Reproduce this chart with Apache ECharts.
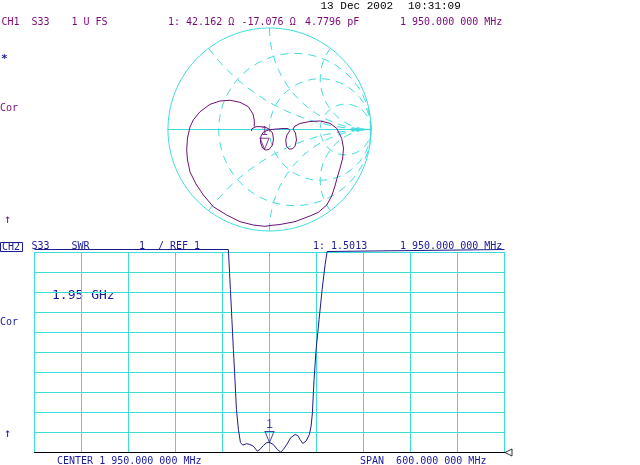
<!DOCTYPE html>
<html><head><meta charset="utf-8">
<script src="https://cdn.jsdelivr.net/npm/echarts@6/dist/echarts.min.js"></script>
<style>html,body{margin:0;padding:0;background:#fff}#c{width:640px;height:465px}</style>
</head><body><div id="c"></div>
<script>
// ---- CH1: S33 Smith chart trace (reflection coefficient, real / imaginary) ----
const smithGammaRe = [-0.177,-0.177,-0.163,-0.133,-0.094,-0.044,-0.005,0.030,0.039,0.030,-0.005,-0.039,-0.069,-0.089,-0.084,-0.059,-0.025,0.015,0.074,0.133,0.182,0.202,0.172,0.160,0.167,0.192,0.222,0.251,0.266,0.256,0.232,0.251,0.300,0.399,0.498,0.596,0.662,0.711,0.729,0.721,0.695,0.665,0.645,0.613,0.564,0.481,0.399,0.251,0.103,0.005,-0.044,-0.160,-0.291,-0.422,-0.554,-0.652,-0.724,-0.783,-0.808,-0.816,-0.808,-0.783,-0.751,-0.685,-0.586,-0.488,-0.389,-0.291,-0.209,-0.163,-0.150,-0.150];
const smithGammaIm = [-0.015,0.005,0.020,0.028,0.028,0.023,0.005,-0.034,-0.094,-0.153,-0.197,-0.202,-0.182,-0.123,-0.064,-0.025,-0.010,0.000,0.005,0.010,0.010,-0.010,-0.054,-0.103,-0.163,-0.192,-0.192,-0.167,-0.103,-0.034,0.005,0.034,0.059,0.079,0.084,0.061,0.012,-0.087,-0.182,-0.281,-0.382,-0.481,-0.557,-0.655,-0.744,-0.816,-0.852,-0.908,-0.936,-0.946,-0.954,-0.941,-0.908,-0.842,-0.761,-0.645,-0.537,-0.419,-0.300,-0.202,-0.084,0.025,0.094,0.175,0.248,0.281,0.288,0.268,0.225,0.153,0.094,0.028];
// Smith graticule: constant resistance circles and constant reactance arcs (normalised)
const smithR = [1/3, 1, 3];
const smithX = [0.5, 1, 2, -0.5, -1, -2];
// marker 1 readout (ohms) and system impedance
const markerZ = [42.162, -17.076];
const z0 = 50;

// ---- CH2: S33 SWR versus frequency ----
const centerMHz = 1950, spanMHz = 600;
const swrFreqMHz = [1650,1897.5,1898.2,1900.1,1902.0,1903.9,1905.9,1907.8,1910.3,1912.9,1915.7,1920.8,1925.0,1929.3,1934.4,1937.8,1942.1,1946.4,1950,1954.9,1960.0,1964.3,1967.7,1972.0,1977.1,1982.6,1986.1,1989.0,1992.5,1996.7,2000.9,2003.1,2004.8,2006.0,2006.9,2009.5,2013.3,2017.2,2021.0,2023.6,2024.2,2250];
const swrValues  = [11.15,11.15,11.05,9.15,7.65,6.15,4.65,3.15,2.15,1.50,1.37,1.44,1.40,1.32,1.07,1.15,1.35,1.49,1.50,1.40,1.15,1.02,1.15,1.40,1.74,1.90,1.85,1.65,1.45,1.57,1.90,2.32,2.99,3.99,4.65,6.15,7.65,9.15,10.4,11.05,11.15,11.15];
const swrRefValue = 1, swrPerDiv = 1, swrDivs = 10;
const markerFreqMHz = 1950, markerSWR = 1.5013;

const PURPLE = '#7a087a', TRACE1 = '#6a1278', BLUE = '#1a1a9c', TRACE2 = '#1c1c8c', CYAN = '#3cdcdc';
const HP = '10px "DejaVu Sans Mono"';

function gammaOfZ(r, x) {
  const den = (r + 1) * (r + 1) + x * x;
  return [(r * r - 1 + x * x) / den, 2 * x / den];
}
function rCircle(r) {
  const c = r / (1 + r), rad = 1 / (1 + r), pts = [];
  for (let i = 0; i <= 240; i++) { const a = Math.PI * 2 * i / 240; pts.push([c + rad * Math.cos(a), rad * Math.sin(a)]); }
  return pts;
}
function xArc(x) {
  const pts = [];
  for (let i = 0; i < 160; i++) { const r = Math.tan(Math.PI / 2 * i / 160); pts.push(gammaOfZ(r, x)); }
  pts.push([1, 0]);
  return pts;
}
const zn = [markerZ[0] / z0, markerZ[1] / z0];
const markerGamma = gammaOfZ(zn[0], zn[1]);

const series = [];
series.push({ type: 'line', xAxisIndex: 0, yAxisIndex: 0, data: rCircle(0), showSymbol: false, silent: true, clip: false, lineStyle: { color: CYAN, width: 1 } });
smithR.forEach(r => series.push({ type: 'line', xAxisIndex: 0, yAxisIndex: 0, data: rCircle(r), showSymbol: false, silent: true, clip: false, lineStyle: { color: CYAN, width: 1, type: [8, 6] } }));
smithX.forEach(x => series.push({ type: 'line', xAxisIndex: 0, yAxisIndex: 0, data: xArc(x), showSymbol: false, silent: true, clip: false, lineStyle: { color: CYAN, width: 1, type: [8, 6] } }));
series.push({ type: 'line', xAxisIndex: 0, yAxisIndex: 0, data: smithGammaRe.map((v, i) => [v, smithGammaIm[i]]), showSymbol: false, clip: false, lineStyle: { color: TRACE1, width: 1 } });
const triPath = 'path://M0,0L10,0L5,11Z';
series.push({ type: 'scatter', xAxisIndex: 0, yAxisIndex: 0, data: [markerGamma], symbol: triPath, symbolSize: [9, 11], symbolOffset: [0, -5.5],
  itemStyle: { color: 'rgba(0,0,0,0)', borderColor: TRACE1, borderWidth: 1 },
  label: { show: true, position: 'top', distance: 0, formatter: '1', color: TRACE1, font: '9px "DejaVu Sans Mono"' } });
series.push({ type: 'line', xAxisIndex: 1, yAxisIndex: 1, data: swrFreqMHz.map((f, i) => [f - centerMHz, swrValues[i]]), showSymbol: false, clip: false, lineStyle: { color: TRACE2, width: 1 } });
series.push({ type: 'scatter', xAxisIndex: 1, yAxisIndex: 1, data: [[markerFreqMHz - centerMHz, markerSWR]], symbol: triPath, symbolSize: [9, 11], symbolOffset: [0, -5.5],
  itemStyle: { color: 'rgba(0,0,0,0)', borderColor: TRACE2, borderWidth: 1 },
  label: { show: true, position: 'top', distance: 0, formatter: '1', color: TRACE2, font: '9px "DejaVu Sans Mono"' } });
series.push({ type: 'scatter', xAxisIndex: 1, yAxisIndex: 1, data: [[spanMHz / 2, swrRefValue]], symbol: 'path://M0,5L8,0L8,10Z', symbolSize: [7, 7], symbolOffset: [4, 0],
  itemStyle: { color: '#fff', borderColor: '#000', borderWidth: 1 } });

function txt(text, x, y, fill, font) {
  return { type: 'text', x: x, y: y, silent: true, style: { text: text, fill: fill, font: font || HP, align: 'left', verticalAlign: 'middle' } };
}
const graphics = [
  txt('13 Dec 2002', 320.5, 6, '#000', '11px "Liberation Mono"'),
  txt('10:31:09', 408, 6, '#000', '11px "Liberation Mono"'),
  txt('CH1', 1.5, 22, PURPLE), txt('S33', 31.5, 22, PURPLE), txt('1 U FS', 71.5, 22, PURPLE),
  txt('1: 42.162 Ω', 168, 22, PURPLE), txt('-17.076 Ω', 241.5, 22, PURPLE), txt('4.7796 pF', 305, 22, PURPLE),
  txt('1 950.000 000 MHz', 400, 22, PURPLE),
  txt('*', 1, 59, BLUE, 'bold 11px "DejaVu Sans Mono"'), txt('Cor', 0, 108, PURPLE), txt('↑', 4, 220, PURPLE, '12px "DejaVu Sans Mono"'),
  { type: 'rect', silent: true, shape: { x: 0.5, y: 242.5, width: 22, height: 9 }, style: { fill: 'none', stroke: BLUE, lineWidth: 1 } },
  txt('CH2', 2, 247, BLUE), txt('S33', 31.5, 246.5, BLUE), txt('SWR', 71.5, 246.5, BLUE), txt('1', 139, 246.5, BLUE), txt('/ REF 1', 158, 246.5, BLUE),
  txt('1: 1.5013', 313, 246.5, BLUE), txt('1 950.000 000 MHz', 400, 246.5, BLUE),
  txt('1.95 GHz', 52, 296, BLUE, '13px "DejaVu Sans Mono"'),
  txt('Cor', 0, 322, BLUE), txt('↑', 4, 434, BLUE, '12px "DejaVu Sans Mono"'),
  txt('CENTER 1 950.000 000 MHz', 57, 461, BLUE), txt('SPAN  600.000 000 MHz', 360, 461, BLUE)
];

const chart = echarts.init(document.getElementById('c'), null, { renderer: 'canvas' });
chart.setOption({
  animation: false,
  backgroundColor: '#fff',
  grid: [
    { left: 168, top: 28, width: 203, height: 203 },
    { left: 34.5, top: 252.5, width: 470, height: 200 }
  ],
  xAxis: [
    { gridIndex: 0, type: 'value', min: -1, max: 1, axisLine: { show: true, onZero: true, lineStyle: { color: CYAN, width: 1 } }, axisTick: { show: false }, axisLabel: { show: false }, splitLine: { show: false } },
    { gridIndex: 1, type: 'value', min: -spanMHz / 2, max: spanMHz / 2, interval: spanMHz / 10, axisLine: { show: true, onZero: false, lineStyle: { color: '#000', width: 1 } }, axisTick: { show: false }, axisLabel: { show: false }, splitLine: { show: true, lineStyle: { color: CYAN, width: 1 } } }
  ],
  yAxis: [
    { gridIndex: 0, type: 'value', min: -1, max: 1, axisLine: { show: false }, axisTick: { show: false }, axisLabel: { show: false }, splitLine: { show: false } },
    { gridIndex: 1, type: 'value', min: swrRefValue, max: swrRefValue + swrPerDiv * swrDivs, interval: swrPerDiv, axisLine: { show: true, onZero: false, lineStyle: { color: CYAN, width: 1 } }, axisTick: { show: false }, axisLabel: { show: false }, splitLine: { show: true, lineStyle: { color: CYAN, width: 1 } } }
  ],
  series: series,
  graphic: graphics
});
</script></body></html>
